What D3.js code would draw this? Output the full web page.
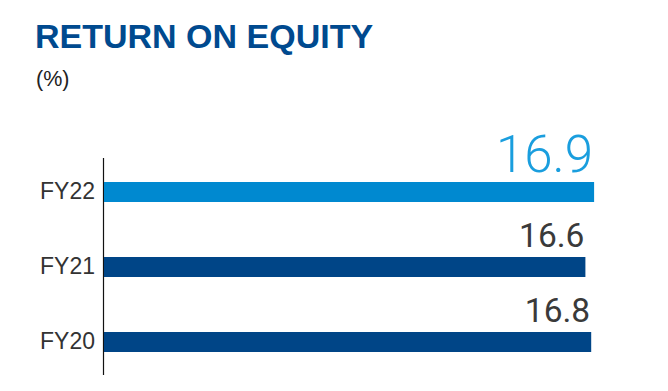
<!DOCTYPE html>
<html>
<head>
<meta charset="utf-8">
<script src="https://cdn.jsdelivr.net/npm/d3@7"></script>
<style>
  body { margin: 0; background: #fff; }
  svg { display: block; font-family: "Liberation Sans", Arial, sans-serif; }
</style>
</head>
<body>
<svg id="chart" width="668" height="391"></svg>
<script>
// chart data
var years = ["FY22", "FY21", "FY20"];
var roe = [16.9, 16.6, 16.8];
var highlight = ["FY22"];

var svg = d3.select("#chart");

// title and unit
svg.append("text")
    .attr("x", 35)
    .attr("y", 48)
    .attr("fill", "#004a8f")
    .attr("style", "font-size: 34px; font-weight: bold;")
    .text("RETURN ON EQUITY");
svg.append("text")
    .attr("x", 36)
    .attr("y", 86)
    .attr("fill", "#222")
    .attr("style", "font-size: 21.5px;")
    .text("(%)");

// scales
var x = d3.scaleLinear().domain([0, 17]).range([104, 597]);
var y = d3.scalePoint().domain(years).range([192, 342]);
var barH = 20;

// axis line on the left
svg.append("line")
    .attr("x1", 103.5).attr("x2", 103.5)
    .attr("y1", 158).attr("y2", 375)
    .attr("stroke", "#111")
    .attr("stroke-width", 1.2);

var rows = svg.selectAll("g.row")
    .data(years.map(function(d, i) { return { year: d, value: roe[i] }; }))
  .enter().append("g")
    .attr("class", "row");

rows.append("rect")
    .attr("x", x(0))
    .attr("y", function(d) { return y(d.year) - barH / 2; })
    .attr("width", function(d) { return x(d.value) - x(0); })
    .attr("height", barH)
    .attr("fill", function(d) { return highlight.indexOf(d.year) >= 0 ? "#0089d0" : "#004587"; });

rows.append("text")
    .attr("x", 95)
    .attr("y", function(d) { return y(d.year) + 7; })
    .attr("text-anchor", "end")
    .attr("fill", "#333")
    .attr("style", "font-size: 23px;")
    .text(function(d) { return d.year; });

// value labels, narrower face like the original; the big one is lighter
rows.append("text")
    .attr("x", function(d) { return x(d.value) - 1; })
    .attr("y", function(d) { return y(d.year) - barH / 2 - 10; })
    .attr("text-anchor", "end")
    .attr("fill", function(d) { return highlight.indexOf(d.year) >= 0 ? "#1a9ede" : "#3a3a3a"; })
    .attr("style", function(d) {
      var hi = highlight.indexOf(d.year) >= 0;
      return "font-family: Roboto, sans-serif; font-weight: " + (hi ? 300 : 400) +
             "; font-size: " + (hi ? 51 : 33.5) + "px;";
    })
    .text(function(d) { return d.value.toFixed(1); });
</script>
</body>
</html>
